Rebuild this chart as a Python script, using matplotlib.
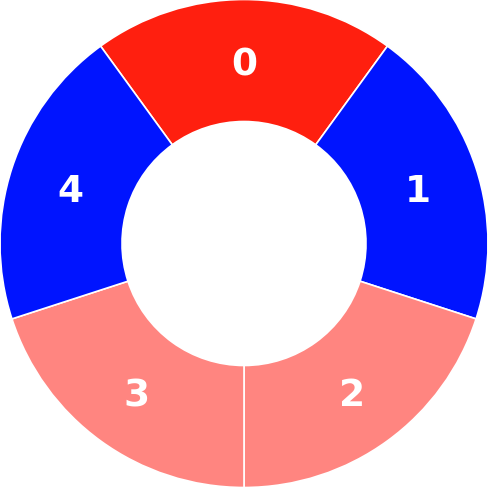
import matplotlib
matplotlib.use("Agg")
import numpy as np
from matplotlib import pyplot as plt

# Data
labels = ["0", "1", "2", "3", "4"]
values = [1, 1, 1, 1, 1]
colors = ["#ff1f0f", "#0014ff", "#ff8580", "#ff8580", "#0014ff"]

fig = plt.figure(figsize=(4.88, 4.89), dpi=100)
ax = fig.add_axes([0, 0, 1, 1])

wedges, _ = ax.pie(values, colors=colors, startangle=126, counterclock=False,
                   radius=1.0, wedgeprops=dict(width=0.5, edgecolor="white", linewidth=1.2))

# labels sit a little low in the original
dy = -0.016
for w, lab in zip(wedges, labels):
    ang = np.deg2rad((w.theta1 + w.theta2) / 2.0)
    r = 0.75
    ax.text(r * np.cos(ang), r * np.sin(ang) + dy, lab, ha="center", va="center",
            color="white", fontsize=27, fontweight="bold", family="DejaVu Sans")

ax.set_xlim(-1.0, 1.0)
ax.set_ylim(-1.0, 1.0)
ax.set_aspect("equal")
ax.axis("off")

fig.savefig("out.png", dpi=100)
